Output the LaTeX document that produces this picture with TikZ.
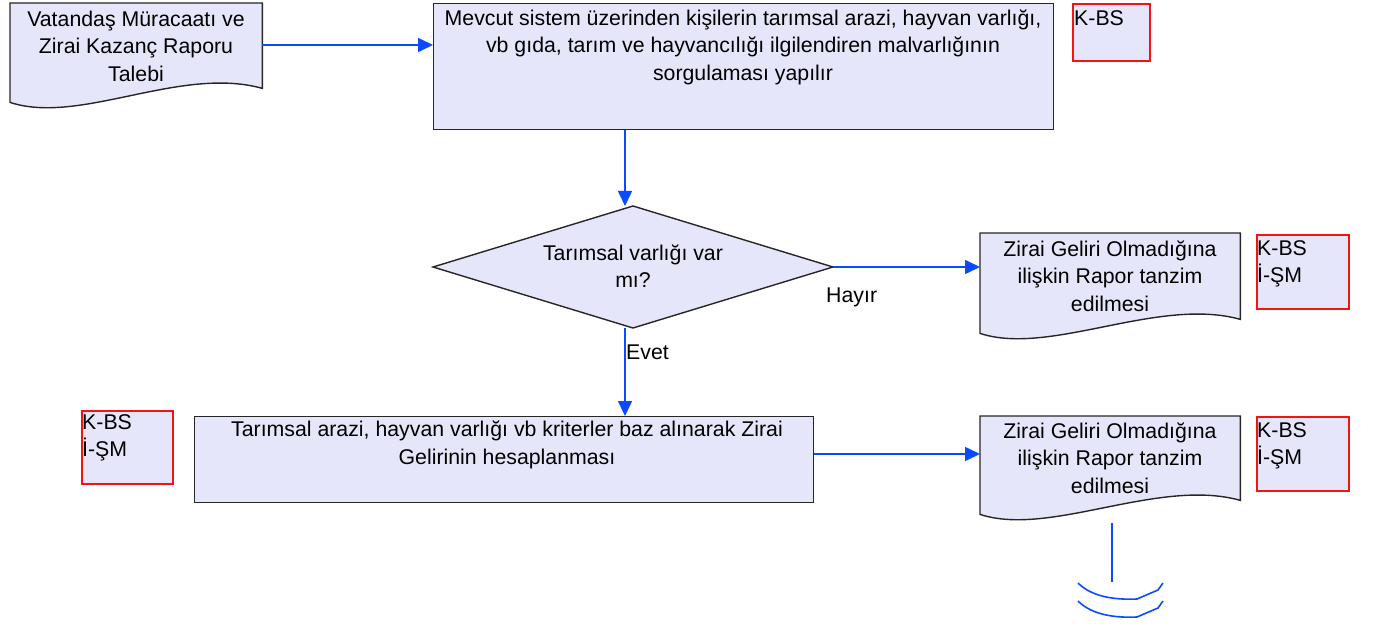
\documentclass[tikz,border=0pt]{standalone}
\usepackage{fontspec}
\setmainfont{Liberation Sans}
\usetikzlibrary{arrows.meta,calc,shapes.geometric}
\definecolor{boxfill}{RGB}{230,230,250}
\definecolor{flowblue}{RGB}{10,75,255}
\definecolor{tagred}{RGB}{240,20,20}
\begin{document}
\begin{tikzpicture}[x=1pt,y=-1pt,
  txt/.style={font=\fontsize{21.3}{27.5}\selectfont, inner sep=0pt, align=center},
  tagtxt/.style={font=\fontsize{21.3}{27.5}\selectfont, inner sep=0pt, align=left, anchor=north west},
  procbox/.style={draw=black!85, line width=1.4pt, fill=boxfill, inner sep=0pt, anchor=north west},
  docbox/.style={draw=none, inner sep=0pt, anchor=north west},
  docline/.style={draw=black!85, line width=1.4pt, fill=boxfill},
  tagbox/.style={draw=tagred, line width=1.6pt, fill=boxfill, anchor=north west, inner sep=0pt},
  flow/.style={draw=flowblue, line width=1.6pt, -{Triangle[length=15pt,width=14pt]}},
  flowline/.style={draw=flowblue, line width=1.6pt}
]
\useasboundingbox (0,0) rectangle (1374,628);

% documents
\node[docbox, minimum width=252pt, minimum height=85pt] (d1) at (10,3) {};
\node[docbox, minimum width=260pt, minimum height=86pt] (d2) at (980,233) {};
\node[docbox, minimum width=260pt, minimum height=84pt] (d3) at (980,416) {};
\foreach \d in {d1,d2,d3}{
  \path[docline] (\d.north west) -- (\d.north east) -- (\d.south east)
    .. controls ($(\d.south east)+(-82,-23)$) and ($(\d.south west)+(70,37)$) ..
    ($(\d.south west)+(0,14)$) -- cycle;
}
\node[txt] (d1t) at (136,46) {Vatandaş Müracaatı ve\\Zirai Kazanç Raporu\\Talebi};
\node[txt] (d2t) at (1110,276) {Zirai Geliri Olmadığına\\ilişkin Rapor tanzim\\edilmesi};
\node[txt] (d3t) at (1110,458) {Zirai Geliri Olmadığına\\ilişkin Rapor tanzim\\edilmesi};

% process boxes
\node[procbox, minimum width=620pt, minimum height=126pt] (main) at (433,3) {};
\node[txt] (maint) at (743,47) {Mevcut sistem üzerinden kişilerin tarımsal arazi, hayvan varlığı,\\vb gıda, tarım ve hayvancılığı ilgilendiren malvarlığının\\sorgulaması yapılır};
\node[procbox, minimum width=619pt, minimum height=86pt] (calc) at (194,416) {};
\node[txt] (calct) at (507,445) {Tarımsal arazi, hayvan varlığı vb kriterler baz alınarak Zirai\\Gelirinin hesaplanması};

% decision
\coordinate (dtop) at (633,206);
\coordinate (dright) at (833,267);
\coordinate (dbot) at (633,328);
\coordinate (dleft) at (433,267);
\path[docline] (dtop) -- (dright) -- (dbot) -- (dleft) -- cycle;
\node[txt] (dec) at (633,266) {Tarımsal varlığı var\\mı?};

% tags
\node[tagbox, minimum width=77pt, minimum height=57pt] (tag1) at (1072,3) {};
\node[tagtxt] at ($(tag1.north west)+(2,7)$) {K-BS};
\node[tagbox, minimum width=92pt, minimum height=74pt] (tag2) at (1256,234) {};
\node[tagtxt] at ($(tag2.north west)+(1,6)$) {K-BS\\İ-ŞM};
\node[tagbox, minimum width=91pt, minimum height=73pt] (tag3) at (81,410) {};
\node[tagtxt] at ($(tag3.north west)+(1,4)$) {K-BS\\İ-ŞM};
\node[tagbox, minimum width=92pt, minimum height=74pt] (tag4) at (1256,416) {};
\node[tagtxt] at ($(tag4.north west)+(1,6)$) {K-BS\\İ-ŞM};

% connectors
\coordinate (ax) at (625,0);
\draw[flow] (d1.east |- 0,45) -- (main.west |- 0,45);
\draw[flow] (ax |- main.south) -- (ax |- 0,206);
\draw[flow] (dright) -- (d2.west |- dright);
\draw[flow] (ax |- 0,328) -- (ax |- calc.north);
\draw[flow] (calc.east |- 0,454) -- (d3.west |- 0,454);
\node[txt, anchor=west] (hayir) at (826,297) {Hayır};
\node[txt, anchor=west] (evet) at (626,352) {Evet};

% terminal
\coordinate (tA) at (1112,523);
\coordinate (tB) at (1112,582);
\draw[flowline] (tA) -- (tB);
\foreach \dy in {0,18}{
  \draw[flowline] (1078,583+\dy) .. controls (1092,597+\dy) and (1115,600+\dy) .. (1137,599+\dy) -- (1158,590+\dy) -- (1163,583+\dy);
}
\end{tikzpicture}
\end{document}
